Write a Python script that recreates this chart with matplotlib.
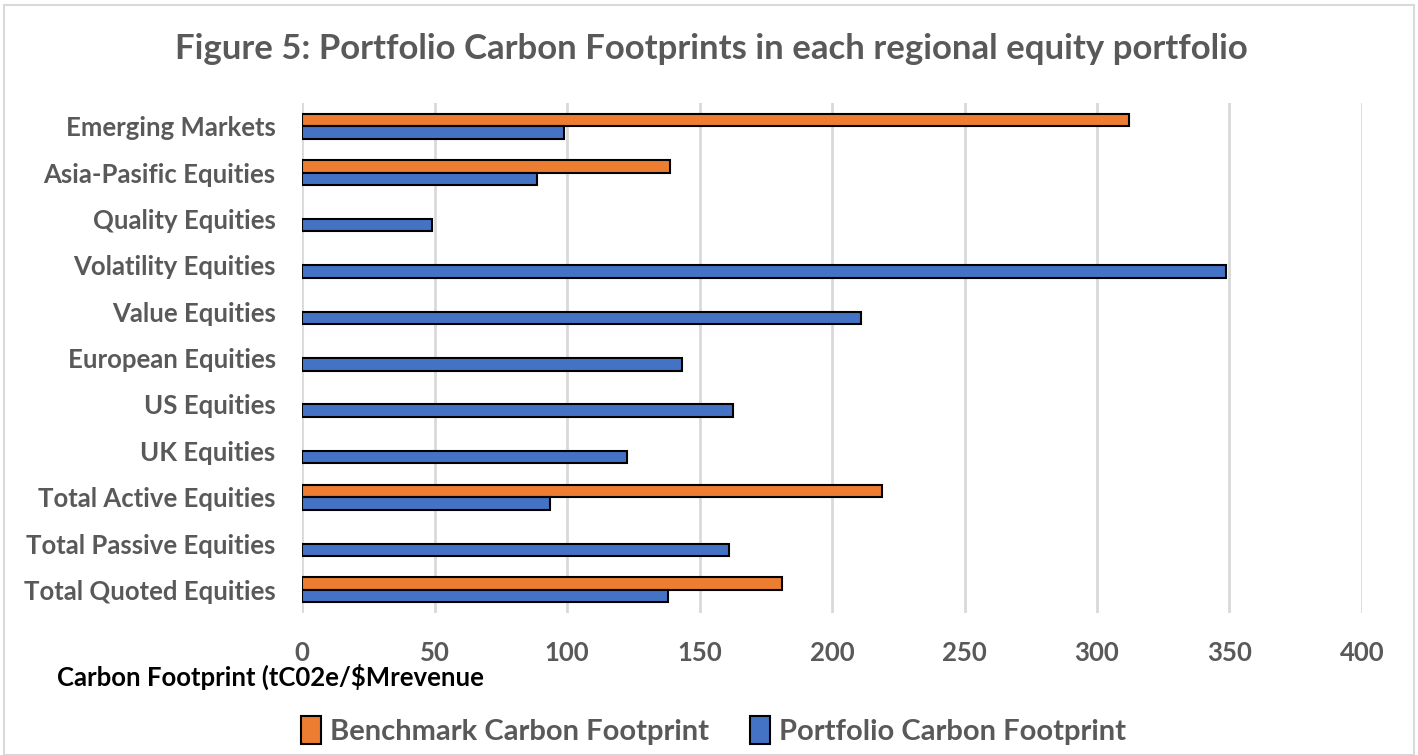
import numpy as np
import matplotlib
matplotlib.use("Agg")
import matplotlib.pyplot as plt
from matplotlib.patches import Rectangle, Patch

plt.rcParams['font.family'] = ['Lato', 'DejaVu Sans']

categories = [
    "Emerging Markets", "Asia-Pasific Equities", "Quality Equities",
    "Volatility Equities", "Value Equities", "European Equities",
    "US Equities", "UK Equities", "Total Active Equities",
    "Total Passive Equities", "Total Quoted Equities",
]
benchmark = [312, 139, np.nan, np.nan, np.nan, np.nan, np.nan, np.nan, 219, np.nan, 181]
portfolio = [99, 88.5, 49, 348.5, 211, 143.5, 162.5, 122.5, 93.5, 161, 138]
xticks = [0, 50, 100, 150, 200, 250, 300, 350, 400]

orange = "#ED7D31"
blue = "#4472C4"
grey_text = "#595959"

fig = plt.figure(figsize=(14.18, 7.55), dpi=100)
ax = fig.add_axes([0.213, 0.188, 0.7475, 0.6755])

y = np.arange(len(categories))
h = 0.27
ax.barh(y - h / 2, benchmark, height=h, color=orange, edgecolor="black", linewidth=1.5,
        label="Benchmark Carbon Footprint", zorder=3)
ax.barh(y + h / 2, portfolio, height=h, color=blue, edgecolor="black", linewidth=1.5,
        label="Portfolio Carbon Footprint", zorder=3)

ax.set_ylim(len(categories) - 0.5, -0.5)
ax.set_xlim(0, 400)
ax.set_yticks(y)
ax.set_yticklabels(categories, fontsize=18.5, fontweight="bold", color=grey_text)
ax.set_xticks(xticks)
ax.set_xticklabels([str(t) for t in xticks], fontsize=18.5, fontweight="bold", color=grey_text)
ax.tick_params(length=0)
ax.tick_params(axis="y", pad=19)
ax.tick_params(axis="x", pad=20)
for s in ax.spines.values():
    s.set_visible(False)
ax.grid(axis="x", color="#D9D9D9", linewidth=2, zorder=0)
ax.set_axisbelow(True)

fig.text(0.502, 0.935, "Figure 5: Portfolio Carbon Footprints in each regional equity portfolio",
         ha="center", va="center", fontsize=25, fontweight="bold", color=grey_text)
fig.text(0.040, 0.103, "Carbon Footprint (tC02e/$Mrevenue", ha="left", va="center",
         fontsize=18.5, fontweight="bold", color="black")

handles = [Patch(facecolor=orange, edgecolor="black", linewidth=1.5),
           Patch(facecolor=blue, edgecolor="black", linewidth=1.5)]
fig.legend(handles, ["Benchmark Carbon Footprint", "Portfolio Carbon Footprint"],
           loc="center", bbox_to_anchor=(0.503, 0.032), ncol=2, frameon=False,
           prop={"size": 21, "weight": "bold"}, labelcolor=grey_text,
           handlelength=0.7, handleheight=1.1, handletextpad=0.3, columnspacing=1.4)

fig.patches.append(Rectangle((0.003, 0.0), 0.994, 0.993, transform=fig.transFigure,
                             fill=False, edgecolor="#D9D9D9", linewidth=1.5))

fig.savefig("out.png", dpi=100)
